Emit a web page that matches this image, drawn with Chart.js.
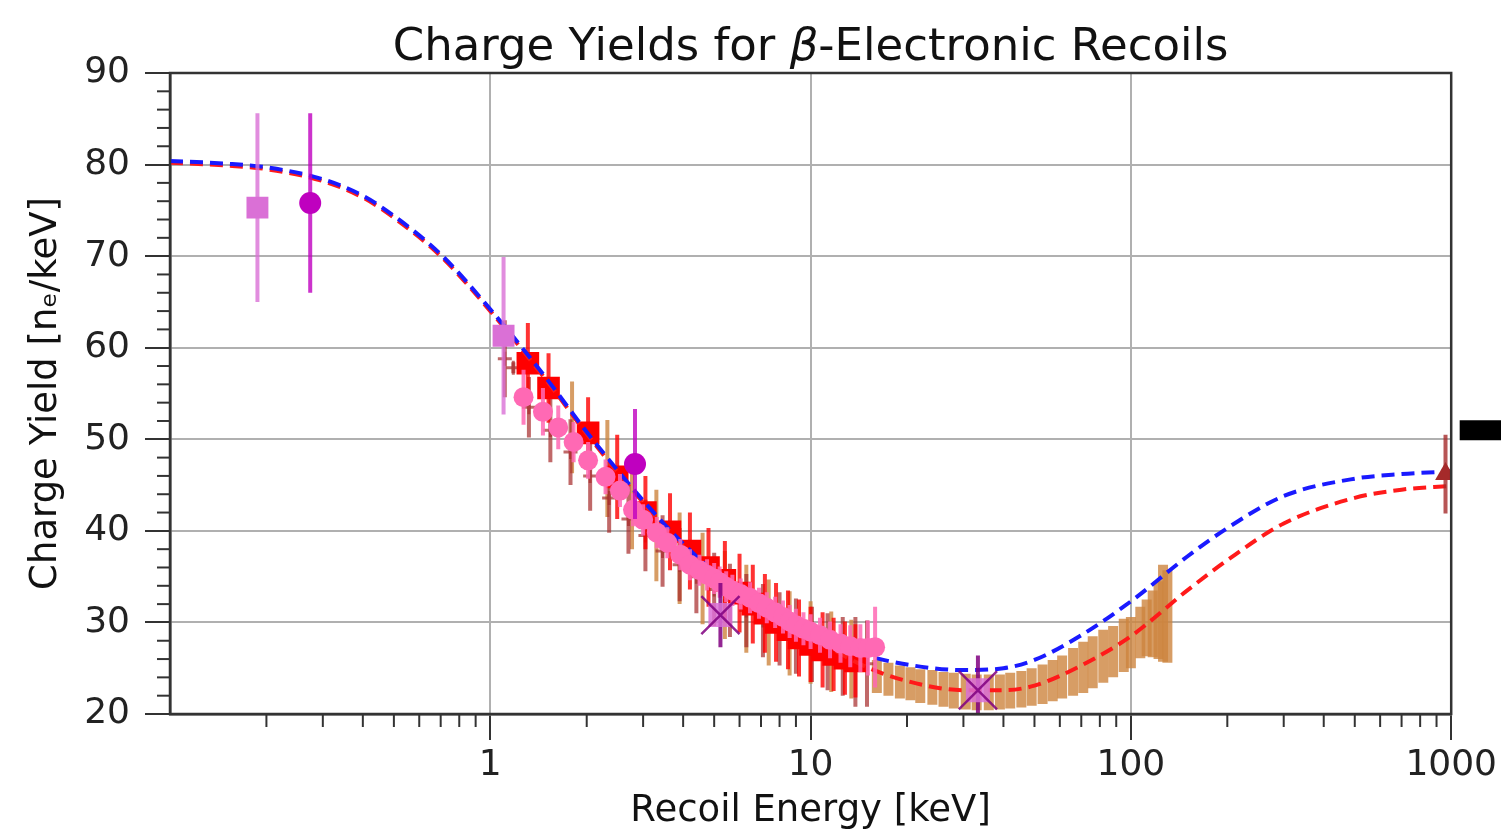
<!DOCTYPE html>
<html>
<head>
<meta charset="utf-8">
<script src="https://cdn.jsdelivr.net/npm/chart.js@4.4.0/dist/chart.umd.min.js"></script>
<style>
  html, body { margin: 0; padding: 0; background: #fff; }
  #wrap { width: 1501px; height: 836px; }
</style>
</head>
<body>
<div id="wrap"><canvas id="chart"></canvas></div>
<script>
// Model curves (energy in keV, yield in n_e/keV)
const curveE = [0.1, 0.15, 0.2, 0.3, 0.4, 0.5, 0.7, 1, 1.5, 2, 3, 4, 5, 7, 10, 15, 20, 30, 40, 50, 70, 100, 150, 200, 300, 500, 700, 1000];
const blueY = [80.4, 80.1, 79.7, 78.4, 76.6, 74.4, 70.2, 64.2, 56.6, 50.8, 43.3, 38.6, 35.5, 31.6, 28.9, 26.4, 25.4, 24.8, 25.0, 25.9, 28.6, 32.3, 37.2, 40.3, 43.8, 45.7, 46.2, 46.5];
const redY = [80.2, 79.9, 79.5, 78.2, 76.4, 74.2, 70.0, 64.0, 56.4, 50.6, 43.1, 38.4, 35.2, 31.2, 28.4, 25.1, 23.6, 22.6, 22.6, 23.1, 25.3, 28.5, 33.5, 36.8, 40.8, 43.6, 44.5, 44.9];

// Orchid squares
const orchidE = [0.1875, 1.10];
const orchidY = [75.3, 61.3];
const orchidErr = [10.3, 8.6];

// Magenta circles
const magE = [0.274, 2.83];
const magY = [75.8, 47.3];
const magErr = [9.8, 6.0];

// Red squares
const redE = [1.31, 1.52, 2.02, 2.49, 3.05, 3.64, 4.2, 4.8, 5.4, 6.0, 6.6, 7.2, 7.8, 8.5, 9.2, 10.0, 10.9, 11.8, 12.8, 13.8];
const redSqY = [58.3, 55.6, 50.7, 45.9, 42.0, 39.9, 37.8, 36.0, 34.6, 33.2, 32.0, 31.0, 30.0, 29.2, 28.3, 27.6, 27.0, 26.5, 26.1, 25.8];
const redErr = [4.4, 3.8, 3.9, 4.6, 4.0, 4.2, 4.2, 4.3, 4.3, 4.3, 4.3, 4.3, 4.3, 4.3, 4.2, 4.1, 4.1, 4.0, 4.0, 4.0];

// Hot pink circles
const pinkE = [1.27, 1.46, 1.63, 1.82, 2.02, 2.29, 2.54, 2.79, 3.0, 3.31, 3.57, 3.92, 4.2, 4.5, 4.75, 5.0, 5.2, 5.45, 5.7, 6.05, 6.47, 6.9, 7.3, 7.75, 8.2, 8.6, 9.0, 9.5, 10.0, 10.7, 11.5, 12.4, 13.3, 14.3, 15.1, 15.9];
const pinkY = [54.6, 53.0, 51.3, 49.7, 47.7, 45.9, 44.4, 42.3, 41.2, 39.8, 38.7, 37.4, 36.3, 35.7, 35.2, 34.8, 34.4, 33.9, 33.5, 33.1, 32.7, 32.1, 31.6, 31.1, 30.6, 30.1, 29.7, 29.3, 29.0, 28.6, 28.1, 27.7, 27.4, 27.2, 27.2, 27.3];
const pinkErr = [3.0, 2.6, 2.4, 2.2, 2.0, 1.9, 1.8, 1.8, 1.7, 1.7, 1.7, 1.7, 1.7, 1.7, 1.7, 1.7, 1.7, 1.7, 1.7, 1.7, 1.7, 1.7, 1.7, 1.7, 1.8, 1.8, 1.8, 1.8, 1.9, 1.9, 2.0, 2.1, 2.3, 2.6, 3.0, 4.4];

// Brown plus markers
const brownE = [1.11, 1.18, 1.32, 1.54, 1.78, 2.05, 2.35, 2.7, 3.05, 3.45, 3.9, 4.4, 5.0, 5.6, 6.3, 7.1, 8.0, 9.0, 10.1, 11.3, 12.6, 13.8, 15.0];
const brownY = [58.8, 57.8, 53.5, 51.0, 48.6, 46.0, 43.6, 41.3, 39.5, 37.8, 36.3, 35.0, 33.6, 32.4, 31.3, 30.2, 29.3, 28.5, 27.6, 26.8, 26.3, 25.7, 25.5];
const brownErr = [4.2, 0.6, 3.3, 3.5, 3.6, 3.8, 3.8, 3.8, 3.9, 3.9, 4.0, 4.0, 4.0, 4.0, 4.0, 4.0, 4.0, 4.1, 4.1, 4.2, 4.3, 4.9, 4.7];

// Tan bars, low energy
const tanLowE = [1.8, 2.32, 2.77, 3.3, 3.9, 4.6, 5.4, 6.3, 7.4, 8.6, 10.0, 11.6, 13.4];
const tanLowY = [51.3, 46.8, 43.0, 39.5, 37.0, 34.8, 33.0, 31.5, 30.0, 28.8, 27.8, 26.8, 26.0];
const tanLowErr = [5.0, 5.3, 5.0, 5.0, 5.0, 5.0, 4.8, 4.8, 4.7, 4.6, 4.5, 4.4, 4.3];

// Tan bars, high energy (lower / upper edge)
const tanE = [16.1, 17.5, 19.0, 20.5, 22.0, 24.0, 26.0, 28.0, 30.5, 33.0, 36.0, 39.0, 42.0, 45.5, 49.0, 53.0, 57.0, 61.0, 66.0, 71.0, 76.0, 82.0, 88.0, 95.0, 100, 107, 112, 117, 122, 126, 130];
const tanLo = [22.3, 22.0, 21.7, 21.5, 21.2, 21.0, 20.8, 20.6, 20.5, 20.4, 20.4, 20.5, 20.6, 20.7, 20.9, 21.1, 21.4, 21.7, 22.0, 22.3, 22.8, 23.4, 24.0, 24.6, 25.0, 26.1, 26.3, 26.2, 26.0, 25.7, 25.6];
const tanHi = [25.9, 25.6, 25.3, 25.1, 24.9, 24.8, 24.6, 24.5, 24.4, 24.3, 24.3, 24.3, 24.5, 24.7, 25.0, 25.4, 25.9, 26.4, 27.2, 27.9, 28.5, 29.2, 29.6, 30.4, 30.6, 31.7, 32.5, 33.5, 34.5, 36.3, 35.7];

// Purple X markers
const xMarkE = [5.23, 33.3];
const xMarkY = [30.8, 22.6];
const xMarkErr = [3.5, 3.8];

// Dark red triangle
const triE = [960];
const triY = [46.2];
const triErr = [4.3];

// marker past the right edge
const offE = [1300];
const offY = [51.0];

const xTicks = [1, 10, 100, 1000];
const xTickLabels = ['1', '10', '100', '1000'];

const FONT = '"DejaVu Sans", "Liberation Sans", sans-serif';
Chart.defaults.font.family = FONT;
Chart.defaults.color = '#222';

function pts(xs, ys) {
    return xs.map((x, i) => ({ x: x, y: ys[i] }));
}

// Vertical error bars, drawn just before each dataset's markers
const errorBars = {
    id: 'errorBars',
    beforeDatasetDraw(chart, args) {
        const ds = chart.data.datasets[args.index];
        if (!ds.err && !ds.lo) return;
        const ctx = chart.ctx;
        const xs = chart.scales.x, ys = chart.scales.y;
        const a = chart.chartArea;
        ctx.save();
        ctx.beginPath();
        ctx.rect(a.left, a.top, a.right - a.left, a.bottom - a.top);
        ctx.clip();
        ctx.strokeStyle = ds.errColor;
        ctx.lineWidth = ds.errWidth;
        ds.data.forEach((p, i) => {
            const lo = ds.lo ? ds.lo[i] : p.y - ds.err[i];
            const hi = ds.hi ? ds.hi[i] : p.y + ds.err[i];
            const px = xs.getPixelForValue(p.x);
            ctx.beginPath();
            ctx.moveTo(px, ys.getPixelForValue(lo));
            ctx.lineTo(px, ys.getPixelForValue(hi));
            ctx.stroke();
        });
        ctx.restore();
    }
};

// Frame, minor ticks and the title
const frame = {
    id: 'frame',
    afterDraw(chart) {
        const ctx = chart.ctx;
        const a = chart.chartArea;
        const xs = chart.scales.x, ys = chart.scales.y;
        ctx.save();
        ctx.strokeStyle = '#333';
        ctx.lineWidth = 2;
        // minor ticks
        for (let v = 22; v < 90; v += 2) {
            if (v % 10 === 0) continue;
            const py = ys.getPixelForValue(v);
            ctx.beginPath();
            ctx.moveTo(a.left - 13, py);
            ctx.lineTo(a.left, py);
            ctx.stroke();
        }
        for (let d = 0.1; d < 1000; d *= 10) {
            for (let k = 2; k <= 9; k++) {
                const px = xs.getPixelForValue(d * k);
                ctx.beginPath();
                ctx.moveTo(px, a.bottom);
                ctx.lineTo(px, a.bottom + 13);
                ctx.stroke();
            }
        }
        ctx.lineWidth = 2.5;
        ctx.strokeRect(a.left, a.top, a.right - a.left, a.bottom - a.top);

        // title, centred over the plot area
        const parts = [['Charge Yields for ', ''], ['\u03B2', 'italic '], ['-Electronic Recoils', '']];
        let total = 0;
        parts.forEach(p => {
            ctx.font = p[1] + '45px ' + FONT;
            total += ctx.measureText(p[0]).width;
        });
        let x = (a.left + a.right) / 2 - total / 2;
        ctx.fillStyle = '#111';
        ctx.textBaseline = 'alphabetic';
        parts.forEach(p => {
            ctx.font = p[1] + '45px ' + FONT;
            ctx.fillText(p[0], x, 60);
            x += ctx.measureText(p[0]).width;
        });
        ctx.restore();
    }
};

const datasets = [
    {
        label: 'tan high', data: pts(tanE, tanLo), lo: tanLo, hi: tanHi,
        errColor: 'rgba(205,133,63,0.8)', errWidth: 10, pointRadius: 0, order: 12, clip: 0
    },
    {
        label: 'tan low', data: pts(tanLowE, tanLowY), err: tanLowErr,
        errColor: 'rgba(205,133,63,0.8)', errWidth: 4, pointRadius: 0, order: 11, clip: 0
    },
    {
        label: 'brown', data: pts(brownE, brownY), err: brownErr,
        errColor: 'rgba(165,42,42,0.7)', errWidth: 4,
        pointStyle: 'cross', pointRadius: 7, borderColor: 'rgba(165,42,42,0.7)', pointBorderWidth: 3,
        order: 10, clip: 0
    },
    {
        label: 'red squares', data: pts(redE, redSqY), err: redErr,
        errColor: 'rgba(255,0,0,0.8)', errWidth: 4,
        pointStyle: 'rect', pointRadius: 16, backgroundColor: '#ff0000', pointBorderWidth: 0,
        order: 9, clip: 0
    },
    {
        label: 'red model', data: pts(curveE, redY), showLine: true, pointRadius: 0,
        borderColor: '#ff1a1a', borderWidth: 4, borderDash: [13, 7],
        cubicInterpolationMode: 'monotone', order: 8, clip: 0
    },
    {
        label: 'blue model', data: pts(curveE, blueY), showLine: true, pointRadius: 0,
        borderColor: '#1a1aff', borderWidth: 4, borderDash: [13, 7],
        cubicInterpolationMode: 'monotone', order: 7, clip: 0
    },
    {
        label: 'pink circles', data: pts(pinkE, pinkY), err: pinkErr,
        errColor: 'rgba(255,105,180,0.85)', errWidth: 4,
        pointStyle: 'circle', pointRadius: 10, backgroundColor: '#ff69b4', pointBorderWidth: 0,
        order: 6, clip: 0
    },
    {
        label: 'magenta', data: pts(magE, magY), err: magErr,
        errColor: 'rgba(191,0,191,0.8)', errWidth: 4,
        pointStyle: 'circle', pointRadius: 11, backgroundColor: '#bf00bf', pointBorderWidth: 0,
        order: 5, clip: 0
    },
    {
        label: 'orchid', data: pts(orchidE, orchidY), err: orchidErr,
        errColor: 'rgba(218,112,214,0.8)', errWidth: 4,
        pointStyle: 'rect', pointRadius: 15.5, backgroundColor: '#da70d6', pointBorderWidth: 0,
        order: 5, clip: 0
    },
    {
        label: 'x fill', data: pts(xMarkE, xMarkY), err: xMarkErr,
        errColor: 'rgba(128,0,128,0.85)', errWidth: 4,
        pointStyle: 'rect', pointRadius: 17, backgroundColor: 'rgba(218,112,214,0.85)', pointBorderWidth: 0,
        order: 4, clip: 0
    },
    {
        label: 'x cross', data: pts(xMarkE, xMarkY),
        pointStyle: 'crossRot', pointRadius: 27, borderColor: 'rgba(128,0,128,0.85)', pointBorderWidth: 2.5,
        order: 3, clip: 0
    },
    {
        label: 'triangle', data: pts(triE, triY), err: triErr,
        errColor: 'rgba(165,42,42,0.8)', errWidth: 4,
        pointStyle: 'triangle', pointRadius: 12, backgroundColor: '#a52a2a', pointBorderWidth: 0,
        order: 2, clip: 0
    },
    {
        label: 'off', data: pts(offE, offY),
        pointStyle: 'line', pointRadius: 28, borderColor: '#000', pointBorderWidth: 20,
        order: 1, clip: false
    }
];

new Chart(document.getElementById('chart'), {
    type: 'scatter',
    data: { datasets: datasets },
    options: {
        responsive: true,
        maintainAspectRatio: false,
        animation: false,
        events: [],
        layout: { padding: { left: 0, right: 49, top: 73, bottom: 0 } },
        plugins: {
            legend: { display: false },
            tooltip: { enabled: false },
            title: { display: false }
        },
        scales: {
            x: {
                type: 'logarithmic',
                min: 0.1,
                max: 1000,
                afterBuildTicks: (scale) => {
                    scale.ticks = xTicks.map(v => ({ value: v }));
                },
                afterFit: (scale) => { scale.height = 122; },
                ticks: {
                    autoSkip: false,
                    maxRotation: 0,
                    padding: 4,
                    font: { size: 36 },
                    color: '#222',
                    callback: (value) => xTickLabels[xTicks.indexOf(value)]
                },
                grid: {
                    color: '#b0b0b0', lineWidth: 2,
                    tickColor: '#333', tickWidth: 2, tickLength: 26
                },
                border: { color: '#333', width: 2.5 },
                title: {
                    display: true,
                    text: 'Recoil Energy [keV]',
                    font: { size: 37 },
                    color: '#111',
                    padding: { top: 0, bottom: 2 }
                }
            },
            y: {
                min: 20,
                max: 90,
                afterFit: (scale) => { scale.width = 170; },
                ticks: {
                    stepSize: 10,
                    padding: 15,
                    font: { size: 36 },
                    color: '#222'
                },
                grid: {
                    color: '#b0b0b0', lineWidth: 2,
                    tickColor: '#333', tickWidth: 2, tickLength: 25
                },
                border: { color: '#333', width: 2.5 },
                title: {
                    display: true,
                    text: 'Charge Yield [n\u2091/keV]',
                    font: { size: 37 },
                    color: '#111',
                    padding: { top: 24, bottom: 0 }
                }
            }
        }
    },
    plugins: [errorBars, frame]
});
</script>
</body>
</html>
